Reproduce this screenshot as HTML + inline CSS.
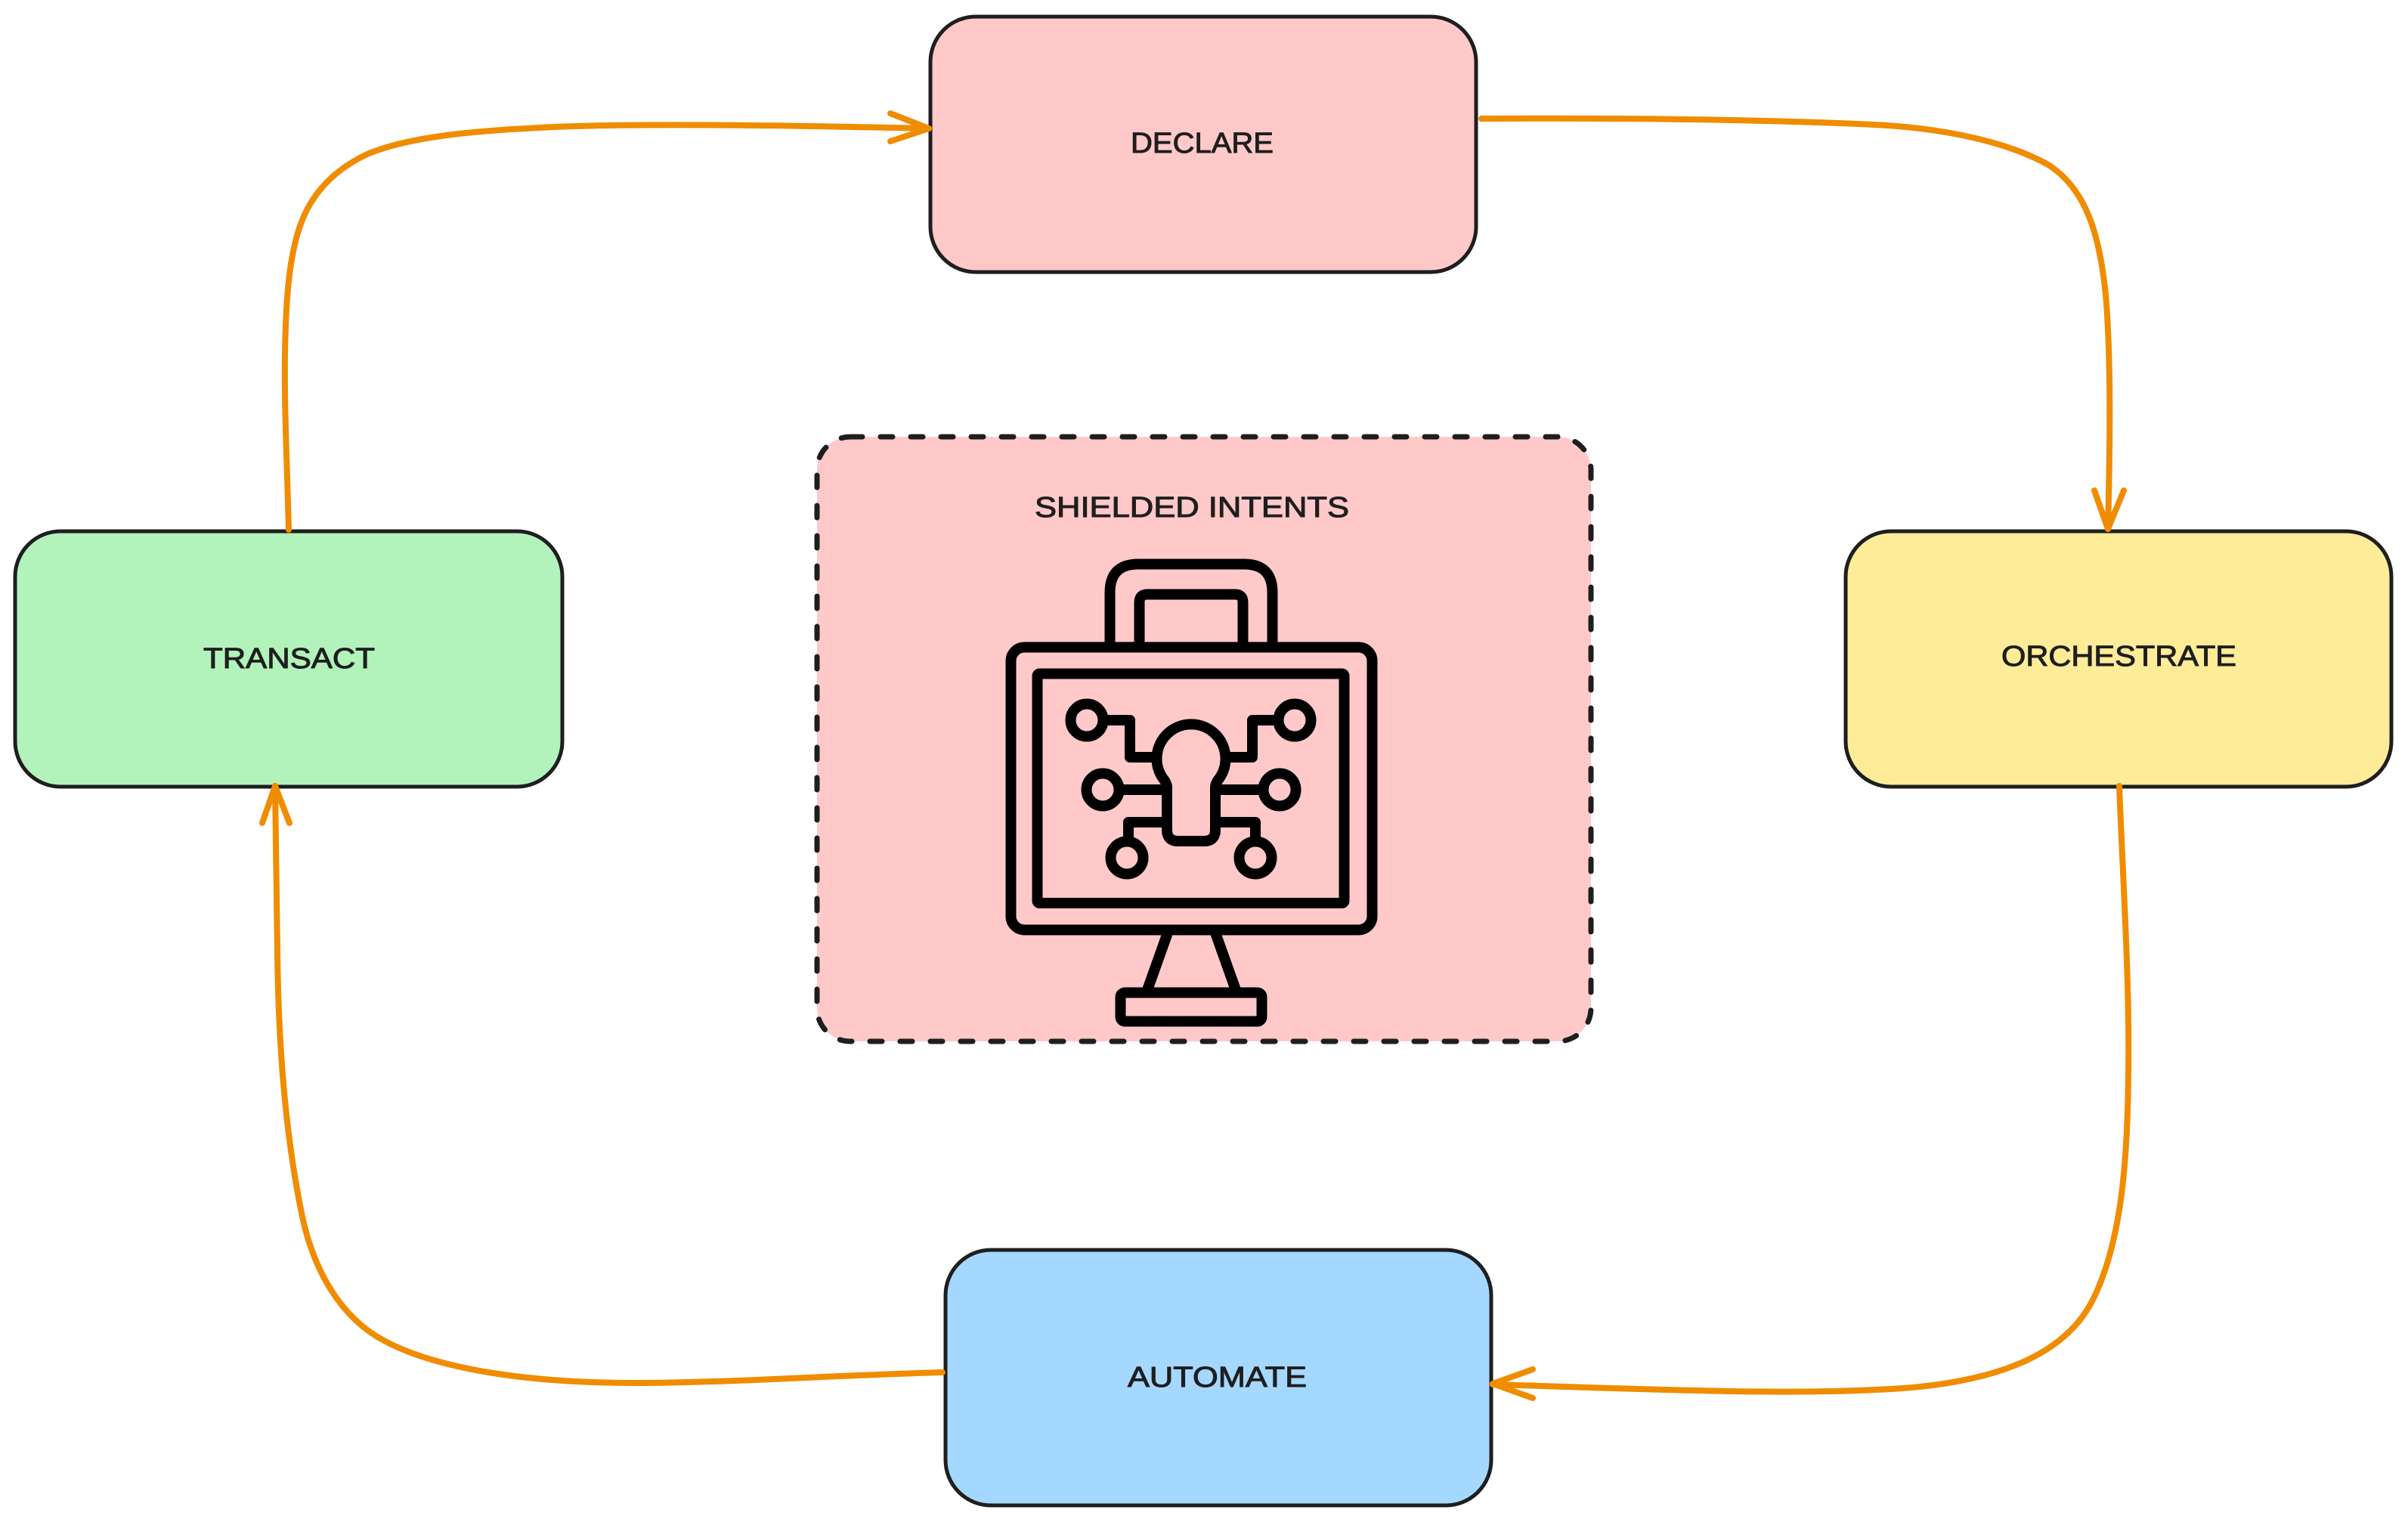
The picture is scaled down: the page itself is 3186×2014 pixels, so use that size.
<!DOCTYPE html>
<html>
<head>
<meta charset="utf-8">
<style>
  html, body { margin:0; padding:0; background:#ffffff; }
  body { width:3186px; height:2014px; overflow:hidden; }
  svg { display:block; }
  .lbl { font-family: "Liberation Sans", "DejaVu Sans", sans-serif; font-size:38px; fill:#1e1e1e; stroke:#1e1e1e; stroke-width:1; font-weight:normal; }
</style>
</head>
<body>
<svg width="3186" height="2014" viewBox="0 0 3186 2014" xmlns="http://www.w3.org/2000/svg">
  <rect x="0" y="0" width="3186" height="2014" fill="#ffffff"/>

  <!-- Boxes -->
  <rect x="1231" y="22" width="722" height="338" rx="60" ry="60" fill="#ffc9c9" stroke="#1e1e1e" stroke-width="5"/>
  <rect x="20" y="703" width="724" height="338" rx="60" ry="60" fill="#b2f2bb" stroke="#1e1e1e" stroke-width="5"/>
  <rect x="2442" y="703" width="722" height="338" rx="60" ry="60" fill="#ffec99" stroke="#1e1e1e" stroke-width="5"/>
  <rect x="1251" y="1654" width="722" height="338" rx="60" ry="60" fill="#a5d8ff" stroke="#1e1e1e" stroke-width="5"/>

  <!-- Labels -->
  <text class="lbl" x="1496" y="202" textLength="189" lengthAdjust="spacingAndGlyphs">DECLARE</text>
  <text class="lbl" x="269" y="884" textLength="227" lengthAdjust="spacingAndGlyphs">TRANSACT</text>
  <text class="lbl" x="2648" y="881" textLength="311" lengthAdjust="spacingAndGlyphs">ORCHESTRATE</text>
  <text class="lbl" x="1492" y="1835" textLength="237" lengthAdjust="spacingAndGlyphs">AUTOMATE</text>

  <!-- Center dashed container -->
  <rect x="1081" y="578" width="1024" height="800" rx="44" ry="44" fill="#ffc9c9" stroke="#1e1e1e" stroke-width="7" stroke-dasharray="16 24" stroke-linecap="round"/>
  <text class="lbl" x="1369" y="684" textLength="416" lengthAdjust="spacingAndGlyphs">SHIELDED INTENTS</text>

  <!-- Icon -->
  <g fill="none" stroke="#000000" stroke-width="14" stroke-linejoin="round" stroke-linecap="round">
    <path d="M1468.5,852 L1468.5,784 Q1468.5,746.5 1506,746.5 L1646,746.5 Q1683.5,746.5 1683.5,784 L1683.5,852"/>
    <path d="M1507.5,852 L1507.5,797 Q1507.5,786.5 1518,786.5 L1634,786.5 Q1644.5,786.5 1644.5,797 L1644.5,852"/>
    <rect x="1337.5" y="856.5" width="478" height="374" rx="18" ry="18"/>
    <rect x="1372.5" y="891.5" width="406" height="303.5" rx="3" ry="3"/>
    <path d="M1544,1237 L1518,1310"/>
    <path d="M1609,1237 L1635,1310"/>
    <rect x="1482.5" y="1313.5" width="187" height="38" rx="6" ry="6"/>
    <path d="M1544,1098 L1544,1042 Q1544,1038 1541,1033 A45.5,45.5 0 1 1 1611,1033 Q1608,1038 1608,1042 L1608,1098 Q1608,1113 1593,1113 L1559,1113 Q1544,1113 1544,1098 Z"/>
    <circle cx="1438" cy="953" r="21.5"/>
    <circle cx="1713" cy="953" r="21.5"/>
    <circle cx="1459" cy="1045" r="21.5"/>
    <circle cx="1693" cy="1045" r="21.5"/>
    <circle cx="1491" cy="1135" r="21.5"/>
    <circle cx="1661" cy="1135" r="21.5"/>
    <path d="M1460,953 L1495,953 L1495,1002 L1530,1002" stroke-linecap="butt"/>
    <path d="M1691,953 L1657,953 L1657,1002 L1622,1002" stroke-linecap="butt"/>
    <path d="M1481,1045 L1544,1045" stroke-linecap="butt"/>
    <path d="M1608,1045 L1671,1045" stroke-linecap="butt"/>
    <path d="M1544,1088 L1493,1088 L1493,1114" stroke-linecap="butt"/>
    <path d="M1608,1088 L1661,1088 L1661,1114" stroke-linecap="butt"/>
  </g>

  <!-- Arrows -->
  <g fill="none" stroke="#f08c00" stroke-width="8" stroke-linecap="round" stroke-linejoin="round">
    <!-- TRANSACT -> DECLARE -->
    <path d="M382,701 C380,620 376,540 377,470 C378,400 382,340 398,296 C412,258 440,225 488,203 C540,182 620,172 760,167 C900,163 1080,167 1229,170"/>
    <path d="M1178,150 L1229,170 L1178,187"/>
    <!-- DECLARE -> ORCHESTRATE -->
    <path d="M1960,157 C2150,156 2330,158 2480,165 C2580,170 2660,190 2710,218 C2760,250 2778,310 2786,390 C2793,470 2792,580 2789,700"/>
    <path d="M2771,649 L2789,700 L2810,649"/>
    <!-- ORCHESTRATE -> AUTOMATE -->
    <path d="M2804,1040 C2808,1150 2818,1300 2816,1420 C2815,1530 2808,1640 2770,1718 C2735,1790 2650,1825 2530,1836 C2380,1848 2180,1838 1975,1832"/>
    <path d="M2028,1812 L1975,1831 L2028,1850"/>
    <!-- AUTOMATE -> TRANSACT -->
    <path d="M1247,1816 C1100,1820 960,1830 840,1830 C700,1830 580,1812 510,1775 C450,1744 415,1680 400,1610 C375,1490 368,1360 367,1260 L364,1041"/>
    <path d="M347,1089 L364,1040 L383,1089"/>
  </g>
</svg>
</body>
</html>
